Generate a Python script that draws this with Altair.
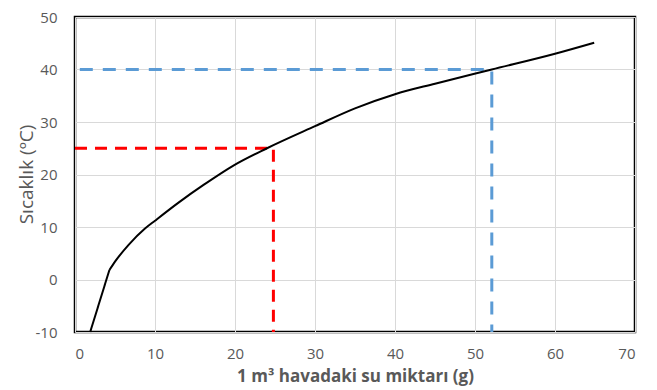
import altair as alt
import pandas as pd

# Curve: water vapour content (g per m3) vs temperature (°C)
# steep lower part (straight) and the smooth upper part
low_x = [1.9, 4.3]
low_y = [-10.0, 1.8]
curve_x = [4.3, 5.0, 6.7, 8.75, 10.0, 12.9, 16.25, 19.8, 24.0, 30.0, 35.0, 40.0, 45.0, 52.1, 60.0, 64.9]
curve_y = [1.8, 3.4, 6.6, 9.7, 11.2, 14.6, 18.2, 21.7, 25.0, 29.2, 32.6, 35.3, 37.3, 40.0, 43.0, 45.1]

# Guide lines
red_x = [0.0, 24.8, 24.8]
red_y = [25.0, 25.0, -10.0]
blue_x = [0.6, 52.1, 52.1]
blue_y = [40.0, 40.0, -10.0]

low = pd.DataFrame({"x": low_x, "y": low_y, "o": [0, 1]})
curve = pd.DataFrame({"x": curve_x, "y": curve_y, "o": list(range(len(curve_x)))})
red = pd.DataFrame({"x": red_x, "y": red_y, "o": [0, 1, 2]})
blue = pd.DataFrame({"x": blue_x, "y": blue_y, "o": [0, 1, 2]})

FONT = "Open Sans"
GRAY = "#595959"

xscale = alt.Scale(domain=[0, 70], nice=False, zero=False)
yscale = alt.Scale(domain=[-10, 50], nice=False, zero=False)

xaxis = alt.Axis(values=[0, 10, 20, 30, 40, 50, 60, 70], title="1 m³ havadaki su miktarı (g)",
                 grid=True, gridColor="#d9d9d9", domain=False, ticks=False,
                 labelPadding=14, labelFontSize=15, labelColor=GRAY, labelFont=FONT,
                 labelExpr="datum.value + ''",
                 titleFont=FONT, titleFontSize=17, titleFontWeight="bold", titleColor=GRAY,
                 titlePadding=7)
yaxis = alt.Axis(values=[-10, 0, 10, 20, 30, 40, 50], title="Sıcaklık (ºC)",
                 grid=True, gridColor="#d9d9d9", domain=False, ticks=False,
                 labelPadding=18, labelFontSize=15, labelColor=GRAY, labelFont=FONT,
                 labelExpr="datum.value + ''",
                 titleFont=FONT, titleFontSize=19, titleFontWeight="normal", titleColor=GRAY,
                 titleX=-49, titleY=157, titleAngle=270, titleAlign="center", titleBaseline="middle")

low_line = alt.Chart(low).mark_line(color="black", strokeWidth=2).encode(
    x=alt.X("x:Q", scale=xscale, axis=xaxis),
    y=alt.Y("y:Q", scale=yscale, axis=yaxis),
    order="o:Q",
)

base_curve = alt.Chart(curve).mark_line(color="black", strokeWidth=2, interpolate="monotone").encode(
    x=alt.X("x:Q", scale=xscale),
    y=alt.Y("y:Q", scale=yscale),
    order="o:Q",
)

red_line = alt.Chart(red).mark_line(color="#ff0000", strokeWidth=3, strokeDash=[12, 8]).encode(
    x=alt.X("x:Q", scale=xscale),
    y=alt.Y("y:Q", scale=yscale),
    order="o:Q",
)

blue_line = alt.Chart(blue).mark_line(color="#5b9bd5", strokeWidth=3, strokeDash=[13, 10]).encode(
    x=alt.X("x:Q", scale=xscale),
    y=alt.Y("y:Q", scale=yscale),
    order="o:Q",
)

chart = alt.layer(low_line, blue_line, red_line, base_curve).properties(
    width=560, height=315,
    padding={"left": 67, "top": 9, "right": 12, "bottom": 58},
    autosize=alt.AutoSizeParams(type="none"),
    background="white",
).configure_view(stroke="black", strokeWidth=2.5)

chart.save("out.html", embed_options={"renderer": "svg", "actions": False})
